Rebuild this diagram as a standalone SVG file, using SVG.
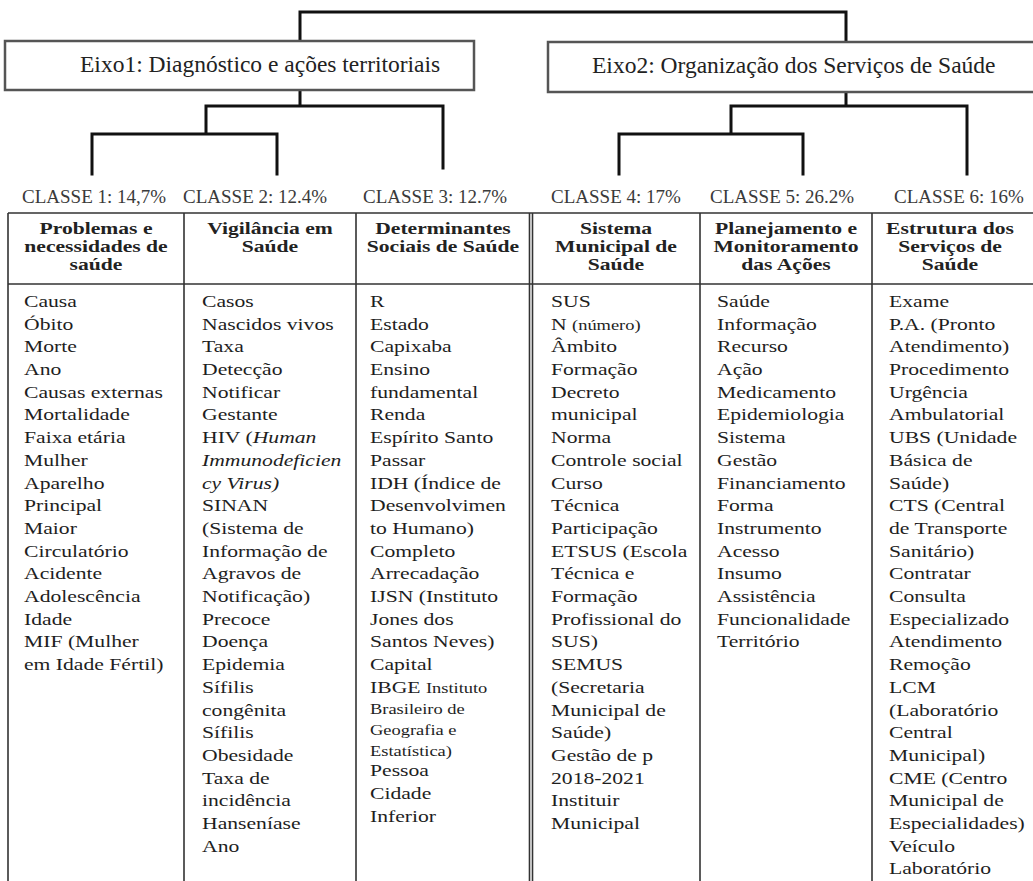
<svg xmlns="http://www.w3.org/2000/svg" width="1033" height="881" viewBox="0 0 1033 881">
<style>
  .bg{fill:#ffffff}
  .tree{stroke:#111;stroke-width:3;fill:none;stroke-linecap:square}
  .box{fill:#fff;stroke:#555;stroke-width:2.5}
  .grid{stroke:#333;stroke-width:1.6;fill:none}
  .eixo{font-family:"Liberation Serif","Times New Roman",serif;font-size:23.5px;fill:#222}
  .cls{font-family:"Liberation Serif","Times New Roman",serif;font-size:19px;fill:#3a3a3a}
  .hd{font-family:"Liberation Serif","Times New Roman",serif;font-size:16px;font-weight:bold;fill:#222;text-anchor:middle}
  .bd{font-family:"Liberation Serif","Times New Roman",serif;font-size:17.6px;fill:#1e1e1e}
  .sm{font-size:15px}
  .it{font-style:italic}
</style>
<rect class="bg" x="0" y="0" width="1033" height="881"/>

<g id="connectors">
  <path class="tree" d="M300,12 H846 M300,12 V41 M846,12 V42"/>
  <path class="tree" d="M300,90 V106 M206,106 H443 M206,106 V134 M92,134 H277 M92,134 V174 M277,134 V174 M443,106 V168"/>
  <path class="tree" d="M846,92 V106 M731,106 H967 M731,106 V134 M619,134 H803 M619,134 V174 M803,134 V174 M967,106 V174"/>
</g>

<g id="eixo1">
  <rect class="box" x="5" y="41" width="469" height="49"/>
  <text class="eixo" x="80" y="72">Eixo1: Diagnóstico e ações territoriais</text>
</g>
<g id="eixo2">
  <rect class="box" x="548" y="42" width="500" height="50"/>
  <text class="eixo" x="592" y="73">Eixo2: Organização dos Serviços de Saúde</text>
</g>

<g id="classes">
  <text class="cls" x="22" y="203">CLASSE 1: 14,7%</text>
  <text class="cls" x="183" y="203">CLASSE 2: 12.4%</text>
  <text class="cls" x="363" y="203">CLASSE 3: 12.7%</text>
  <text class="cls" x="551" y="203">CLASSE 4: 17%</text>
  <text class="cls" x="710" y="203">CLASSE 5: 26.2%</text>
  <text class="cls" x="894" y="203">CLASSE 6: 16%</text>
</g>

<g id="table-grid">
  <path class="grid" d="M8,213 H1033 M8,284 H1033 M8,213 V881 M184,213 V881 M356,213 V881 M700,213 V881 M872,213 V881"/>
  <path class="grid" d="M529.5,213 V881 M532.5,213 V881"/>
</g>

<g id="col1">
  <g transform="translate(96,0) scale(1.35,1)">
    <text class="hd" x="0" y="234">Problemas e</text>
    <text class="hd" x="0" y="252">necessidades de</text>
    <text class="hd" x="0" y="270">saúde</text>
  </g>
  <g transform="translate(24,0) scale(1.23,1)">
    <text class="bd" x="0" y="307">Causa</text>
    <text class="bd" x="0" y="329.7">Óbito</text>
    <text class="bd" x="0" y="352.4">Morte</text>
    <text class="bd" x="0" y="375.1">Ano</text>
    <text class="bd" x="0" y="397.8">Causas externas</text>
    <text class="bd" x="0" y="420.5">Mortalidade</text>
    <text class="bd" x="0" y="443.2">Faixa etária</text>
    <text class="bd" x="0" y="465.9">Mulher</text>
    <text class="bd" x="0" y="488.6">Aparelho</text>
    <text class="bd" x="0" y="511.3">Principal</text>
    <text class="bd" x="0" y="534">Maior</text>
    <text class="bd" x="0" y="556.7">Circulatório</text>
    <text class="bd" x="0" y="579.4">Acidente</text>
    <text class="bd" x="0" y="602.1">Adolescência</text>
    <text class="bd" x="0" y="624.8">Idade</text>
    <text class="bd" x="0" y="647.5">MIF (Mulher</text>
    <text class="bd" x="0" y="670.2">em Idade Fértil)</text>
  </g>
</g>

<g id="col2">
  <g transform="translate(270,0) scale(1.35,1)">
    <text class="hd" x="0" y="234">Vigilância em</text>
    <text class="hd" x="0" y="252">Saúde</text>
  </g>
  <g transform="translate(202,0) scale(1.23,1)">
    <text class="bd" x="0" y="307">Casos</text>
    <text class="bd" x="0" y="329.7">Nascidos vivos</text>
    <text class="bd" x="0" y="352.4">Taxa</text>
    <text class="bd" x="0" y="375.1">Detecção</text>
    <text class="bd" x="0" y="397.8">Notificar</text>
    <text class="bd" x="0" y="420.5">Gestante</text>
    <text class="bd" x="0" y="443.2">HIV (<tspan class="it">Human</tspan></text>
    <text class="bd it" x="0" y="465.9">Immunodeficien</text>
    <text class="bd it" x="0" y="488.6">cy Virus)</text>
    <text class="bd" x="0" y="511.3">SINAN</text>
    <text class="bd" x="0" y="534">(Sistema de</text>
    <text class="bd" x="0" y="556.7">Informação de</text>
    <text class="bd" x="0" y="579.4">Agravos de</text>
    <text class="bd" x="0" y="602.1">Notificação)</text>
    <text class="bd" x="0" y="624.8">Precoce</text>
    <text class="bd" x="0" y="647.5">Doença</text>
    <text class="bd" x="0" y="670.2">Epidemia</text>
    <text class="bd" x="0" y="692.9">Sífilis</text>
    <text class="bd" x="0" y="715.6">congênita</text>
    <text class="bd" x="0" y="738.3">Sífilis</text>
    <text class="bd" x="0" y="761">Obesidade</text>
    <text class="bd" x="0" y="783.7">Taxa de</text>
    <text class="bd" x="0" y="806.4">incidência</text>
    <text class="bd" x="0" y="829.1">Hanseníase</text>
    <text class="bd" x="0" y="851.8">Ano</text>
  </g>
</g>

<g id="col3">
  <g transform="translate(443,0) scale(1.35,1)">
    <text class="hd" x="0" y="234">Determinantes</text>
    <text class="hd" x="0" y="252">Sociais de Saúde</text>
  </g>
  <g transform="translate(370,0) scale(1.23,1)">
    <text class="bd" x="0" y="307">R</text>
    <text class="bd" x="0" y="329.7">Estado</text>
    <text class="bd" x="0" y="352.4">Capixaba</text>
    <text class="bd" x="0" y="375.1">Ensino</text>
    <text class="bd" x="0" y="397.8">fundamental</text>
    <text class="bd" x="0" y="420.5">Renda</text>
    <text class="bd" x="0" y="443.2">Espírito Santo</text>
    <text class="bd" x="0" y="465.9">Passar</text>
    <text class="bd" x="0" y="488.6">IDH (Índice de</text>
    <text class="bd" x="0" y="511.3">Desenvolvimen</text>
    <text class="bd" x="0" y="534">to Humano)</text>
    <text class="bd" x="0" y="556.7">Completo</text>
    <text class="bd" x="0" y="579.4">Arrecadação</text>
    <text class="bd" x="0" y="602.1">IJSN (Instituto</text>
    <text class="bd" x="0" y="624.8">Jones dos</text>
    <text class="bd" x="0" y="647.5">Santos Neves)</text>
    <text class="bd" x="0" y="670.2">Capital</text>
    <text class="bd" x="0" y="692.9">IBGE <tspan class="sm">Instituto</tspan></text>
    <text class="bd sm" x="0" y="713.8">Brasileiro de</text>
    <text class="bd sm" x="0" y="734.7">Geografia e</text>
    <text class="bd sm" x="0" y="755.6">Estatística)</text>
    <text class="bd" x="0" y="776.5">Pessoa</text>
    <text class="bd" x="0" y="799.2">Cidade</text>
    <text class="bd" x="0" y="821.9">Inferior</text>
  </g>
</g>

<g id="col4">
  <g transform="translate(616,0) scale(1.35,1)">
    <text class="hd" x="0" y="234">Sistema</text>
    <text class="hd" x="0" y="252">Municipal de</text>
    <text class="hd" x="0" y="270">Saúde</text>
  </g>
  <g transform="translate(551,0) scale(1.23,1)">
    <text class="bd" x="0" y="307">SUS</text>
    <text class="bd" x="0" y="329.7">N <tspan class="sm">(número)</tspan></text>
    <text class="bd" x="0" y="352.4">Âmbito</text>
    <text class="bd" x="0" y="375.1">Formação</text>
    <text class="bd" x="0" y="397.8">Decreto</text>
    <text class="bd" x="0" y="420.5">municipal</text>
    <text class="bd" x="0" y="443.2">Norma</text>
    <text class="bd" x="0" y="465.9">Controle social</text>
    <text class="bd" x="0" y="488.6">Curso</text>
    <text class="bd" x="0" y="511.3">Técnica</text>
    <text class="bd" x="0" y="534">Participação</text>
    <text class="bd" x="0" y="556.7">ETSUS (Escola</text>
    <text class="bd" x="0" y="579.4">Técnica e</text>
    <text class="bd" x="0" y="602.1">Formação</text>
    <text class="bd" x="0" y="624.8">Profissional do</text>
    <text class="bd" x="0" y="647.5">SUS)</text>
    <text class="bd" x="0" y="670.2">SEMUS</text>
    <text class="bd" x="0" y="692.9">(Secretaria</text>
    <text class="bd" x="0" y="715.6">Municipal de</text>
    <text class="bd" x="0" y="738.3">Saúde)</text>
    <text class="bd" x="0" y="761">Gestão de p</text>
    <text class="bd" x="0" y="783.7">2018-2021</text>
    <text class="bd" x="0" y="806.4">Instituir</text>
    <text class="bd" x="0" y="829.1">Municipal</text>
  </g>
</g>

<g id="col5">
  <g transform="translate(786,0) scale(1.35,1)">
    <text class="hd" x="0" y="234">Planejamento e</text>
    <text class="hd" x="0" y="252">Monitoramento</text>
    <text class="hd" x="0" y="270">das Ações</text>
  </g>
  <g transform="translate(717,0) scale(1.23,1)">
    <text class="bd" x="0" y="307">Saúde</text>
    <text class="bd" x="0" y="329.7">Informação</text>
    <text class="bd" x="0" y="352.4">Recurso</text>
    <text class="bd" x="0" y="375.1">Ação</text>
    <text class="bd" x="0" y="397.8">Medicamento</text>
    <text class="bd" x="0" y="420.5">Epidemiologia</text>
    <text class="bd" x="0" y="443.2">Sistema</text>
    <text class="bd" x="0" y="465.9">Gestão</text>
    <text class="bd" x="0" y="488.6">Financiamento</text>
    <text class="bd" x="0" y="511.3">Forma</text>
    <text class="bd" x="0" y="534">Instrumento</text>
    <text class="bd" x="0" y="556.7">Acesso</text>
    <text class="bd" x="0" y="579.4">Insumo</text>
    <text class="bd" x="0" y="602.1">Assistência</text>
    <text class="bd" x="0" y="624.8">Funcionalidade</text>
    <text class="bd" x="0" y="647.5">Território</text>
  </g>
</g>

<g id="col6">
  <g transform="translate(950,0) scale(1.35,1)">
    <text class="hd" x="0" y="234">Estrutura dos</text>
    <text class="hd" x="0" y="252">Serviços de</text>
    <text class="hd" x="0" y="270">Saúde</text>
  </g>
  <g transform="translate(889,0) scale(1.23,1)">
    <text class="bd" x="0" y="307">Exame</text>
    <text class="bd" x="0" y="329.7">P.A. (Pronto</text>
    <text class="bd" x="0" y="352.4">Atendimento)</text>
    <text class="bd" x="0" y="375.1">Procedimento</text>
    <text class="bd" x="0" y="397.8">Urgência</text>
    <text class="bd" x="0" y="420.5">Ambulatorial</text>
    <text class="bd" x="0" y="443.2">UBS (Unidade</text>
    <text class="bd" x="0" y="465.9">Básica de</text>
    <text class="bd" x="0" y="488.6">Saúde)</text>
    <text class="bd" x="0" y="511.3">CTS (Central</text>
    <text class="bd" x="0" y="534">de Transporte</text>
    <text class="bd" x="0" y="556.7">Sanitário)</text>
    <text class="bd" x="0" y="579.4">Contratar</text>
    <text class="bd" x="0" y="602.1">Consulta</text>
    <text class="bd" x="0" y="624.8">Especializado</text>
    <text class="bd" x="0" y="647.5">Atendimento</text>
    <text class="bd" x="0" y="670.2">Remoção</text>
    <text class="bd" x="0" y="692.9">LCM</text>
    <text class="bd" x="0" y="715.6">(Laboratório</text>
    <text class="bd" x="0" y="738.3">Central</text>
    <text class="bd" x="0" y="761">Municipal)</text>
    <text class="bd" x="0" y="783.7">CME (Centro</text>
    <text class="bd" x="0" y="806.4">Municipal de</text>
    <text class="bd" x="0" y="829.1">Especialidades)</text>
    <text class="bd" x="0" y="851.8">Veículo</text>
    <text class="bd" x="0" y="874.5">Laboratório</text>
  </g>
</g>
</svg>
